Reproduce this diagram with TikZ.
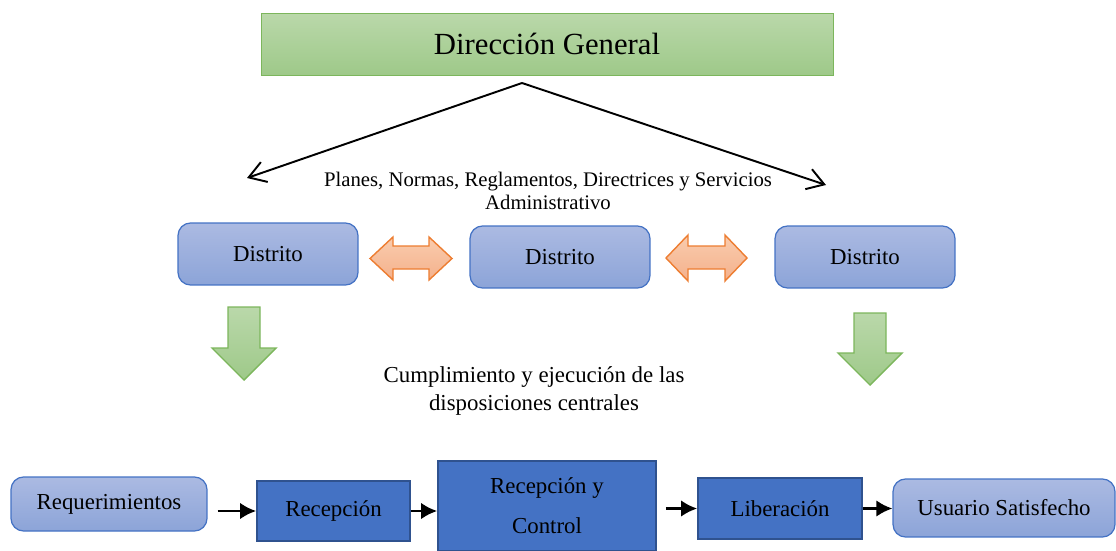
\documentclass[tikz,border=0pt]{standalone}
\usepackage{fontspec}
\setmainfont{Liberation Serif}
\usetikzlibrary{positioning,arrows.meta}

\definecolor{verdeA}{RGB}{186,216,170}
\definecolor{verdeB}{RGB}{158,201,137}
\definecolor{verdeC}{RGB}{124,182,92}
\definecolor{azulA}{RGB}{171,186,226}
\definecolor{azulB}{RGB}{140,164,216}
\definecolor{azulC}{RGB}{68,114,196}
\definecolor{azulD}{RGB}{47,82,143}
\definecolor{naranjaA}{RGB}{244,177,140}
\definecolor{naranjaB}{RGB}{237,125,49}

\tikzset{
  direccion/.style={draw=verdeC, top color=verdeA, bottom color=verdeB,
    minimum width=11.44cm, minimum height=1.24cm, font=\fontsize{17.5}{20}\selectfont},
  distrito/.style={draw=azulC, rounded corners=2.5mm, top color=azulA, bottom color=azulB,
    line width=0.7pt, minimum width=3.6cm, minimum height=1.24cm, font=\fontsize{13}{15}\selectfont},
  proceso/.style={draw=azulD, fill=azulC, line width=1pt, font=\fontsize{13}{15}\selectfont},
  enlace/.style={draw=naranjaB, top color=naranjaA!85!orange!60!white, bottom color=naranjaA,
    line width=0.8pt, line join=miter},
  baja/.style={draw=verdeC, top color=verdeA, bottom color=verdeB, line width=0.8pt},
  reparte/.style={-{Straight Barb[length=3.3mm,width=4.2mm]}, line width=1.1pt},
  flujo/.style={-{Latex[length=3.2mm,width=3.3mm]}, line width=1.5pt},
  nota/.style={align=center}
}

\begin{document}
\begin{tikzpicture}[x=0.02cm,y=-0.02cm]
  \useasboundingbox (0,0) rectangle (1116,551);

  \node[direccion] (dg) at (547,44) {Dirección General};

  \coordinate (origen) at (522,83);
  \coordinate (izq) at (247,178);
  \coordinate (der) at (826,185);
  \draw[reparte] (origen) -- (izq);
  \draw[reparte] (origen) -- (der);

  \node[nota, font=\fontsize{11.8}{13}\selectfont] (planes) at (548,191)
    {Planes, Normas, Reglamentos, Directrices y Servicios\\Administrativo};

  \node[distrito] (d1) at (268,254) {Distrito};
  \node[distrito] (d2) at (560,257) {Distrito};
  \node[distrito] (d3) at (865,257) {Distrito};

  % flechas dobles entre distritos
  \draw[enlace] (370,258.5) -- (393,237) -- (393,246) -- (429,246) -- (429,237)
    -- (452,258.5) -- (429,280) -- (429,269) -- (393,269) -- (393,280) -- cycle;
  \draw[enlace] (666,258) -- (688,235) -- (688,246) -- (725,246) -- (725,235)
    -- (747,258) -- (725,281) -- (725,269) -- (688,269) -- (688,281) -- cycle;

  % flechas hacia abajo
  \draw[baja] (228,307) -- (260,307) -- (260,348) -- (276,348) -- (244,380)
    -- (212,348) -- (228,348) -- cycle;
  \draw[baja] (854,313) -- (886,313) -- (886,353) -- (902,353) -- (870,385)
    -- (838,353) -- (854,353) -- cycle;

  \node[nota, font=\fontsize{13}{16}\selectfont] (cumple) at (534,391)
    {Cumplimiento y ejecución de las\\disposiciones centrales};

  \node[distrito, minimum width=3.92cm, minimum height=1.08cm] (req) at (109,504) {Requerimientos};
  \node[proceso, minimum width=3.06cm, minimum height=1.2cm] (rec) at (333.5,511) {Recepción};
  \node[proceso, align=center, minimum width=4.36cm, minimum height=1.8cm,
    font=\fontsize{13}{22.7}\selectfont] (rc) at (547,506) {Recepción y\\Control};
  \node[proceso, minimum width=3.28cm, minimum height=1.22cm] (lib) at (780,508.5) {Liberación};
  \node[distrito, minimum width=4.44cm, minimum height=1.16cm] (us) at (1004,508) {Usuario Satisfecho};

  \draw[flujo] ([xshift=0.2cm]req.east |- rec) -- (rec.west);
  \draw[flujo] (rec.east) -- (rec.east -| rc.west);
  \draw[flujo] ([xshift=0.18cm]rc.east |- lib) -- (lib.west);
  \draw[flujo] (lib.east) -- (lib.east -| us.west);
\end{tikzpicture}
\end{document}
